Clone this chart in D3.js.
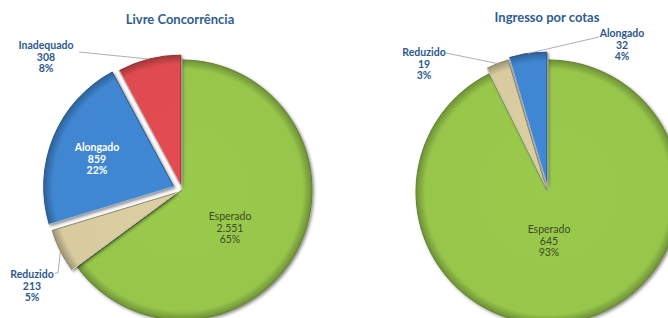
<!DOCTYPE html>
<html>
<head>
<meta charset="utf-8">
<script src="https://cdn.jsdelivr.net/npm/d3@7"></script>
<style>
  body { margin: 0; background: #fff; }
  svg { display: block; font-family: Lato, "Open Sans", sans-serif; }
</style>
</head>
<body>
<svg id="chart" width="668" height="318"></svg>
<script>
// data
const leftTitle = "Livre Concorrência";
const leftCats = ["Esperado", "Reduzido", "Alongado", "Inadequado"];
const leftValues = [2551, 213, 859, 308];
const leftValueText = ["2.551", "213", "859", "308"];
const leftPctText = ["65%", "5%", "22%", "8%"];

const rightTitle = "Ingresso por cotas";
const rightCats = ["Esperado", "Reduzido", "Alongado"];
const rightValues = [645, 19, 32];
const rightValueText = ["645", "19", "32"];
const rightPctText = ["93%", "3%", "4%"];

// styles
const fills = { Esperado: "#97c64b", Reduzido: "#d8cb9f", Alongado: "#3f86d1", Inadequado: "#e04b50" };
const labelColor = "#2c5a8e";

const svg = d3.select("#chart");
const defs = svg.append("defs");
const shadow = defs.append("filter").attr("id", "shadow")
    .attr("x", "-20%").attr("y", "-20%").attr("width", "140%").attr("height", "140%");
shadow.append("feDropShadow").attr("dx", 1.5).attr("dy", 1.5)
    .attr("stdDeviation", 1.5).attr("flood-color", "#000").attr("flood-opacity", 0.45);

function drawPie(cfg) {
    const { id, cx, cy, r, cats, values, valueText, pctText, title, explode, labels } = cfg;
    const g = svg.append("g").attr("transform", `translate(${cx},${cy})`);

    // rim gradients for each slice colour
    cats.forEach(c => {
        const base = d3.color(fills[c]);
        const grad = defs.append("radialGradient")
            .attr("id", `${id}-${c}`)
            .attr("gradientUnits", "userSpaceOnUse")
            .attr("cx", 0).attr("cy", 0).attr("r", r);
        grad.append("stop").attr("offset", "0%").attr("stop-color", base.brighter(0.05));
        grad.append("stop").attr("offset", "93%").attr("stop-color", base);
        grad.append("stop").attr("offset", "100%").attr("stop-color", base.darker(0.9));
    });

    const pie = d3.pie().sort(null).value(d => d.value);
    const arcs = pie(cats.map((c, i) => ({ cat: c, value: values[i], i })));
    const arc = d3.arc().innerRadius(0).outerRadius(r);

    const shift = d => {
        const a = (d.startAngle + d.endAngle) / 2;
        const e = explode[d.data.cat] || 0;
        return [Math.sin(a) * e, -Math.cos(a) * e];
    };

    g.selectAll("path.slice").data(arcs).join("path")
        .attr("class", "slice")
        .attr("transform", d => `translate(${shift(d)})`)
        .attr("d", arc)
        .attr("fill", d => `url(#${id}-${d.data.cat})`)
        .attr("stroke", d => d3.color(fills[d.data.cat]).darker(1.2))
        .attr("stroke-width", 1)
        .attr("stroke-linejoin", "round")
        .attr("filter", "url(#shadow)");

    // thin white separators
    g.selectAll("path.sep").data(arcs).join("path")
        .attr("class", "sep")
        .attr("transform", d => `translate(${shift(d)})`)
        .attr("d", d => {
            const p0 = [Math.sin(d.startAngle) * r, -Math.cos(d.startAngle) * r];
            return `M0,0L${p0[0]},${p0[1]}`;
        })
        .attr("stroke", "rgba(255,255,255,0.6)")
        .attr("stroke-width", 1)
        .attr("fill", "none");

    // title
    svg.append("text")
        .attr("x", cx + cfg.titleDx).attr("y", cfg.titleY)
        .attr("text-anchor", "middle")
        .attr("font-size", 13).attr("font-weight", "bold")
        .attr("fill", "#2e5d90")
        .text(title);

    // labels
    arcs.forEach(d => {
        const c = d.data.cat;
        const L = labels[c];
        const lx = cx + L.dx, ly = cy + L.dy;
        if (L.leader) {
            const a = (d.startAngle + d.endAngle) / 2;
            const e = explode[c] || 0;
            const rr = r + e;
            const end = [cx + Math.sin(a) * rr, cy - Math.cos(a) * rr];
            const pts = L.leader.map(p => [lx + p[0], ly + p[1]]).concat([end]);
            svg.append("path")
                .attr("d", d3.line()(pts))
                .attr("fill", "none")
                .attr("stroke", "#a6a6a6")
                .attr("stroke-width", 0.9);
        }
        const t = svg.append("text")
            .attr("text-anchor", "middle")
            .attr("font-size", 10.5)
            .attr("font-weight", L.weight || "bold")
            .attr("fill", L.color || labelColor);
        [c, valueText[d.index], pctText[d.index]].forEach((s, k) => {
            t.append("tspan").attr("x", lx).attr("y", ly + k * 11.8 + 3.7).text(s);
        });
    });
}

drawPie({
    id: "left", cx: 182, cy: 190, r: 130,
    cats: leftCats, values: leftValues, valueText: leftValueText, pctText: leftPctText,
    title: leftTitle, titleDx: -2, titleY: 24,
    explode: { Reduzido: 6, Alongado: 9, Inadequado: 5 },
    labels: {
        Esperado: { dx: 48, dy: 26, color: "#3d4b25", weight: "normal" },
        Reduzido: { dx: -150, dy: 84, leader: [[23, -1], [26, -1]] },
        Alongado: { dx: -85, dy: -43, color: "#ffffff" },
        Inadequado: { dx: -136, dy: -145, leader: [[33, 7]] }
    }
});

drawPie({
    id: "right", cx: 548, cy: 192, r: 132,
    cats: rightCats, values: rightValues, valueText: rightValueText, pctText: rightPctText,
    title: rightTitle, titleDx: -1, titleY: 22,
    explode: { Reduzido: 6, Alongado: 8 },
    labels: {
        Esperado: { dx: 1, dy: 37, color: "#3d4b25", weight: "normal" },
        Reduzido: { dx: -124, dy: -140, leader: [[22, 1]] },
        Alongado: { dx: 74, dy: -159, leader: [[-23, 4]] }
    }
});
</script>
</body>
</html>
